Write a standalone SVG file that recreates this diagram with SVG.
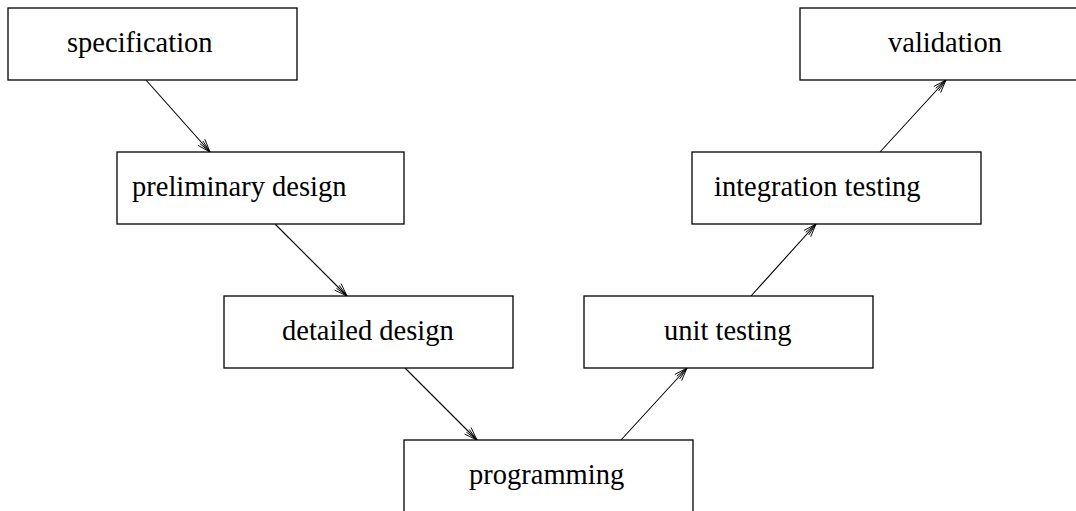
<svg xmlns="http://www.w3.org/2000/svg" width="1076" height="511" viewBox="0 0 1076 511">
  <style>
    .box { fill: #ffffff; stroke: #000000; stroke-width: 1.3; }
    .label { font-family: "Liberation Serif", "Times New Roman", serif; font-size: 28.5px; fill: #000000; }
    .edge { fill: none; stroke: #000000; stroke-width: 1.1; marker-end: url(#open-arrow); }
  </style>
  <defs>
    <!-- open fan-style arrowhead -->
    <marker id="open-arrow" markerUnits="userSpaceOnUse" viewBox="-15 -7 16 14" markerWidth="16" markerHeight="14" refX="0" refY="0" orient="auto" overflow="visible">
      <path d="M-13,-4.6 L0,0 L-13,4.6 M-13,-2 L0,0 M-13,2 L0,0" fill="none" stroke="#000000" stroke-width="0.9"/>
    </marker>
  </defs>

  <rect width="1076" height="511" fill="#ffffff"/>

  <!-- connectors -->
  <g id="connectors">
    <line class="edge" x1="146" y1="80" x2="210" y2="152"/>
    <line class="edge" x1="275" y1="224" x2="347" y2="296"/>
    <line class="edge" x1="405" y1="368" x2="477" y2="440"/>
    <line class="edge" x1="621" y1="440" x2="687" y2="368"/>
    <line class="edge" x1="751" y1="296" x2="816" y2="224"/>
    <line class="edge" x1="880" y1="152" x2="946" y2="80"/>
  </g>

  <!-- process stages -->
  <g id="specification">
    <rect class="box" x="8" y="8" width="289" height="72"/>
    <text class="label" x="67" y="52">specification</text>
  </g>
  <g id="preliminary-design">
    <rect class="box" x="117" y="152" width="287" height="72"/>
    <text class="label" x="132" y="196">preliminary design</text>
  </g>
  <g id="detailed-design">
    <rect class="box" x="224" y="296" width="289" height="72"/>
    <text class="label" x="282" y="340">detailed design</text>
  </g>
  <g id="programming">
    <rect class="box" x="404" y="440" width="289" height="72"/>
    <text class="label" x="469" y="484">programming</text>
  </g>
  <g id="unit-testing">
    <rect class="box" x="584" y="296" width="289" height="72"/>
    <text class="label" x="664" y="340">unit testing</text>
  </g>
  <g id="integration-testing">
    <rect class="box" x="692" y="152" width="289" height="72"/>
    <text class="label" x="714" y="196">integration testing</text>
  </g>
  <g id="validation">
    <rect class="box" x="800" y="8" width="289" height="72"/>
    <text class="label" x="888" y="52">validation</text>
  </g>
</svg>
